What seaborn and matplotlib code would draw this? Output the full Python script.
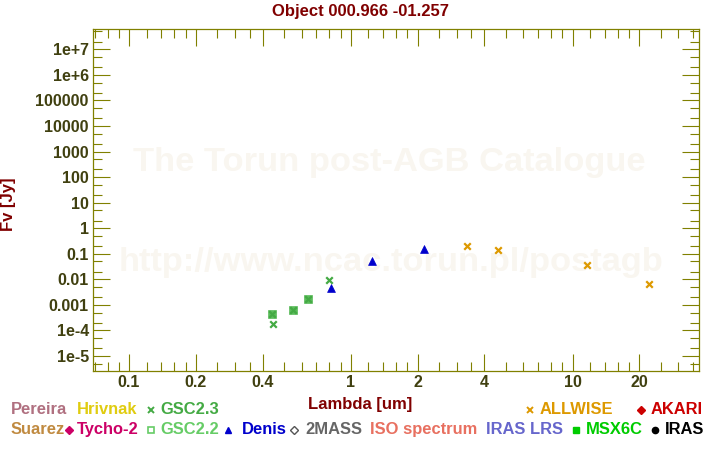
import numpy as np
import pandas as pd
import matplotlib
matplotlib.use("Agg")
import matplotlib.pyplot as plt
import seaborn as sns
from matplotlib.lines import Line2D
from matplotlib.ticker import FixedLocator, FixedFormatter, NullFormatter

# ---------------- data ----------------
title = "Object 000.966 -01.257"
x_label = "Lambda [um]"
y_label = "Fv [Jy]"
watermark_1 = "The Torun post-AGB Catalogue"
watermark_2 = "http://www.ncac.torun.pl/postagb"

gsc23_wl = [0.448, 0.80, 0.439, 0.551, 0.643]
gsc23_flux = [1.74e-4, 9.1e-3, 4.3e-4, 6.2e-4, 1.66e-3]
gsc22_wl = [0.439, 0.551, 0.643]
gsc22_flux = [4.3e-4, 6.2e-4, 1.66e-3]
denis_wl = [0.815, 1.246, 2.14]
denis_flux = [4.7e-3, 0.054, 0.15]
allwise_wl = [3.35, 4.6, 11.6, 22.2]
allwise_flux = [0.20, 0.137, 0.0355, 0.0064]

x_major = [0.1, 0.2, 0.4, 1, 2, 4, 10, 20]
x_major_labels = ["0.1", "0.2", "0.4", "1", "2", "4", "10", "20"]
y_major = [1e7, 1e6, 1e5, 1e4, 1e3, 1e2, 1e1, 1, 0.1, 0.01, 0.001, 1e-4, 1e-5]
y_major_labels = ["1e+7", "1e+6", "100000", "10000", "1000", "100", "10", "1",
                  "0.1", "0.01", "0.001", "1e-4", "1e-5"]

legend_row1 = ["Pereira", "Hrivnak", "GSC2.3", "ALLWISE", "AKARI"]
legend_row2 = ["Suarez", "Tycho-2", "GSC2.2", "Denis", "2MASS", "ISO spectrum",
               "IRAS LRS", "MSX6C", "IRAS"]

# ---------------- style ----------------
sns.set_theme(style="white")
plt.rcParams["font.family"] = ["Liberation Sans", "DejaVu Sans"]
plt.rcParams["font.weight"] = "bold"

W, H = 720, 450
fig = plt.figure(figsize=(7.2, 4.5), dpi=100)
fig.patch.set_facecolor("white")

L, R, T, B = 93, 699, 29.3, 370.7
ax = fig.add_axes([L / W, 1 - B / H, (R - L) / W, (B - T) / H])
ax.set_facecolor("white")

olive = "#808000"
tickc = "#404010"
dred = "#800000"

# watermark (behind data)
ax.text(389.5 / W, 1 - 163 / H, watermark_1, transform=fig.transFigure,
        ha="center", va="center", fontsize=24.8, fontweight="bold",
        color="#f9f6f0", zorder=0)
ax.text(391.5 / W, 1 - 262 / H, watermark_2, transform=fig.transFigure,
        ha="center", va="center", fontsize=24.8, fontweight="bold",
        color="#f9f6f0", zorder=0)

# data points
df_gsc22 = pd.DataFrame({"wl": gsc22_wl, "flux": gsc22_flux})
df_gsc23 = pd.DataFrame({"wl": gsc23_wl, "flux": gsc23_flux})
df_denis = pd.DataFrame({"wl": denis_wl, "flux": denis_flux})
df_allwise = pd.DataFrame({"wl": allwise_wl, "flux": allwise_flux})

sns.scatterplot(data=df_gsc22, x="wl", y="flux", ax=ax, marker="s", s=26,
                color="#5cbc5c", edgecolor="#5cbc5c", linewidth=0.5, zorder=3)
sns.scatterplot(data=df_gsc23, x="wl", y="flux", ax=ax, marker="x", s=22,
                color="#44aa44", linewidth=1.6, zorder=4)
sns.scatterplot(data=df_denis, x="wl", y="flux", ax=ax, marker="^", s=32,
                color="#0000cc", edgecolor="#0000cc", linewidth=0.5, zorder=4)
sns.scatterplot(data=df_allwise, x="wl", y="flux", ax=ax, marker="x", s=22,
                color="#dd9900", linewidth=1.6, zorder=4)

ax.set_xscale("log")
ax.set_yscale("log")
ax.set_xlim(0.0688, 37.15)
ax.set_ylim(10 ** -5.574, 10 ** 7.783)
ax.set_xlabel("")
ax.set_ylabel("")

# ticks
x_minor = []
for dec in [0.01, 0.1, 1, 10]:
    for m in [1.2, 1.4, 1.6, 1.8, 2.5, 3, 3.5, 5, 6, 7, 8, 9]:
        x_minor.append(m * dec)
y_minor = []
for k in range(-6, 8):
    for m in [2, 5]:
        y_minor.append(m * 10.0 ** k)

ax.xaxis.set_major_locator(FixedLocator(x_major))
ax.xaxis.set_major_formatter(FixedFormatter(x_major_labels))
ax.xaxis.set_minor_locator(FixedLocator(x_minor))
ax.xaxis.set_minor_formatter(NullFormatter())
ax.yaxis.set_major_locator(FixedLocator(y_major))
ax.yaxis.set_major_formatter(FixedFormatter(y_major_labels))
ax.yaxis.set_minor_locator(FixedLocator(y_minor))
ax.yaxis.set_minor_formatter(NullFormatter())

ax.set_xlim(0.0688, 37.15)
ax.set_ylim(10 ** -5.574, 10 ** 7.783)

ax.tick_params(which="both", direction="in", top=True, right=True,
               bottom=True, left=True, color=olive, width=0.8,
               labelcolor=tickc, labelsize=11.5)
ax.tick_params(which="major", length=12.3, pad=3)
ax.tick_params(which="minor", length=6.2)
for lab in ax.get_xticklabels() + ax.get_yticklabels():
    lab.set_fontweight("bold")

for sp in ax.spines.values():
    sp.set_color(olive)
    sp.set_linewidth(0.9)
    sp.set_visible(True)

# titles / labels
fig.text(360 / W, 1 - 11.7 / H, title, ha="center", va="center",
         fontsize=12, fontweight="bold", color=dred)
fig.text(360 / W, 1 - 404 / H, x_label, ha="center", va="center",
         fontsize=12, fontweight="bold", color=dred)
fig.text(9 / W, 1 - 204 / H, y_label, ha="center", va="center",
         rotation=90, fontsize=12, fontweight="bold", color=dred)

# legend (custom, text based)
fs = 11.9
y1 = 1 - 410 / H
y2 = 1 - 429.5 / H


def ltext(x, y, s, c):
    fig.text(x / W, y, s, ha="left", va="center", fontsize=fs,
             fontweight="bold", color=c)


def lmark(x, y, m, c, ms, filled=True, mew=1.0):
    fig.add_artist(Line2D([x / W], [y], marker=m, markersize=ms,
                          color=c, markerfacecolor=c if filled else "white",
                          markeredgecolor=c, markeredgewidth=mew,
                          linestyle="none", transform=fig.transFigure))


ltext(10.7, y1, legend_row1[0], "#b07080")
ltext(77, y1, legend_row1[1], "#e0cc10")
lmark(150.7, y1, "x", "#44aa44", 4.5, mew=1.4)
ltext(160, y1, legend_row1[2], "#44aa44")
lmark(530, y1, "x", "#dd9900", 5, mew=1.4)
ltext(540, y1, legend_row1[3], "#dd9900")
lmark(641, y1, "D", "#cc0000", 4.5)
ltext(651, y1, legend_row1[4], "#cc0000")

ltext(10.7, y2, legend_row2[0], "#c08a40")
lmark(69, y2, "D", "#cc0066", 4.5)
ltext(77, y2, legend_row2[1], "#cc0066")
lmark(150.7, y2, "s", "#66cc66", 4.2, filled=False, mew=1.2)
ltext(160, y2, legend_row2[2], "#66cc66")
lmark(228, y2, "^", "#0000cc", 5)
ltext(242, y2, legend_row2[3], "#0000cc")
lmark(294, y2, "D", "#555555", 4.5, filled=False, mew=1.0)
ltext(305, y2, legend_row2[4], "#666666")
ltext(370, y2, legend_row2[5], "#e87060")
ltext(486, y2, legend_row2[6], "#6666cc")
lmark(576, y2, "s", "#00cc00", 4.5)
ltext(586, y2, legend_row2[7], "#00cc00")
lmark(655, y2, "o", "#000000", 4.5)
ltext(665, y2, legend_row2[8], "#000000")

fig.savefig("out.png", dpi=100, facecolor="white")
